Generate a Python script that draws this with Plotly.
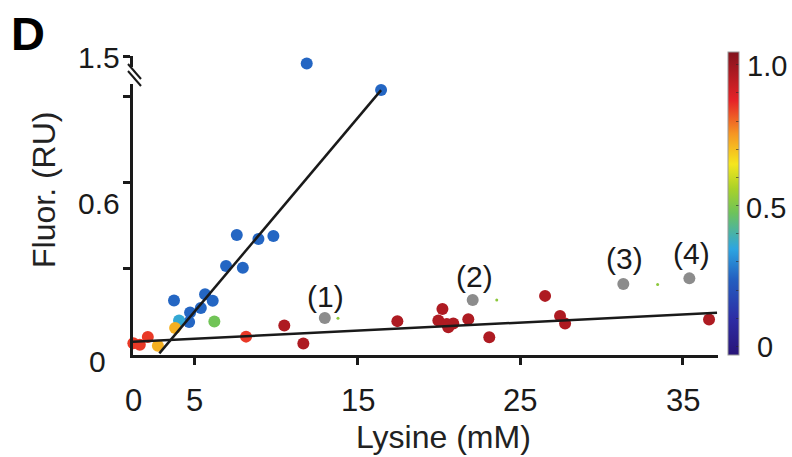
import plotly.graph_objects as go

# ---------------- data (axis units as drawn) ----------------
pt_x = [11.88, 16.45, 7.58, 8.91, 9.83, 6.92, 7.95, 5.63, 6.10, 3.72, 5.37, 4.71, 4.65,
        4.03, 6.20, 3.79, 2.73, 1.22, 1.62, 2.11, 8.15,
        10.50, 11.67, 17.45, 20.22, 19.97, 20.49, 20.89, 20.58, 21.81, 23.10, 26.53, 27.45, 27.76, 36.61]
pt_y = [1.016, 0.923, 0.418, 0.404, 0.415, 0.310, 0.304, 0.212, 0.189, 0.190, 0.164, 0.148, 0.115,
        0.120, 0.117, 0.094, 0.032, 0.041, 0.036, 0.063, 0.064,
        0.103, 0.040, 0.118, 0.160, 0.120, 0.108, 0.110, 0.097, 0.125, 0.062, 0.206, 0.136, 0.110, 0.124]
pt_c = [0.25] * 13 + [0.36, 0.48, 0.72, 0.72, 0.85, 0.85, 0.85, 0.85] + [0.97] * 14

gray_x = [12.99, 22.08, 31.34, 35.40]
gray_y = [0.129, 0.192, 0.247, 0.267]
gray_labels = ["(1)", "(2)", "(3)", "(4)"]
gray_label_x = [13.05, 22.22, 31.40, 35.54]
gray_label_y = [0.203, 0.273, 0.337, 0.354]

tiny_x = [13.80, 23.56, 33.45]
tiny_y = [0.128, 0.192, 0.246]

# fitted lines: slope, intercept, x start, x end
fit_steep = dict(slope=0.0673, intercept=-0.184, x0=2.82, x1=16.45)
fit_flat = dict(slope=0.00282, intercept=0.0426, x0=1.2, x1=37.1)

x_tickvals = [5, 15, 25, 35]
x_ticklabels = ["0", "5", "15", "25", "35"]
x_label_pos = [1.2, 5, 15, 25, 35]
y_tickvals = [0.3, 0.6, 0.9, 1.039]
cbar_ticks = [0, 0.1, 0.2, 0.3, 0.4, 0.5, 0.6, 0.7, 0.8, 0.9, 1.0]

# ---------------- layout geometry ----------------
W, H = 792, 457
L, R, T, B = 133, 718, 56, 355
XR = [1.2, 37.16]
YR = [0.0, (B - T) / 287.0]

def xp(px):
    return (px - L) / (R - L)

def yp(py):
    return (B - py) / (B - T)

FONT = "Arial, Liberation Sans, Helvetica, sans-serif"
INK = "#1a1a1a"

colorscale = [
    [0.00, "rgb(40,20,120)"],
    [0.12, "rgb(45,45,165)"],
    [0.25, "rgb(35,95,192)"],
    [0.35, "rgb(45,165,225)"],
    [0.47, "rgb(110,195,90)"],
    [0.55, "rgb(170,210,40)"],
    [0.63, "rgb(245,230,30)"],
    [0.73, "rgb(245,150,35)"],
    [0.84, "rgb(230,35,40)"],
    [1.00, "rgb(130,20,30)"],
]

fig = go.Figure()

fig.add_trace(go.Scatter(
    x=pt_x, y=pt_y, mode="markers", cliponaxis=False, hoverinfo="skip",
    marker=dict(size=12, color=pt_c, colorscale=colorscale, cmin=-0.03, cmax=1.045,
                line=dict(width=0), showscale=True,
                colorbar=dict(thickness=11, thicknessmode="pixels",
                              len=B - 52, lenmode="pixels",
                              x=xp(728), xanchor="left", y=0, yanchor="bottom",
                              xpad=0, ypad=0, outlinewidth=1, outlinecolor="#9a9a9a",
                              ticks="inside", tickvals=cbar_ticks, ticklen=3,
                              tickcolor="rgba(40,40,40,0.6)", tickwidth=1,
                              showticklabels=False)),
    showlegend=False))

fig.add_trace(go.Scatter(x=gray_x, y=gray_y, mode="markers", cliponaxis=False,
                         marker=dict(size=12, color="#8c8c8c"), showlegend=False))
fig.add_trace(go.Scatter(x=tiny_x, y=tiny_y, mode="markers", cliponaxis=False,
                         marker=dict(size=3, color="rgb(140,200,60)"), showlegend=False))

for f in (fit_steep, fit_flat):
    xs = [f["x0"], f["x1"]]
    ys = [f["slope"] * v + f["intercept"] for v in xs]
    fig.add_trace(go.Scatter(x=xs, y=ys, mode="lines", cliponaxis=False,
                             line=dict(color=INK, width=2.5), showlegend=False))

ann = []
for t, x, y in zip(gray_labels, gray_label_x, gray_label_y):
    ann.append(dict(text=t, x=x, y=y, xref="x", yref="y", showarrow=False,
                    font=dict(size=30, color=INK, family=FONT)))
for t, x in zip(x_ticklabels, x_label_pos):
    ann.append(dict(text=t, x=x, y=yp(400), xref="x", yref="paper", showarrow=False,
                    xanchor="center", yanchor="middle",
                    font=dict(size=31, color=INK, family=FONT)))
# y tick labels
ann.append(dict(text="1.5", x=xp(122), y=yp(57), xref="paper", yref="paper", showarrow=False,
                xanchor="right", yanchor="middle", font=dict(size=30, color=INK, family=FONT)))
ann.append(dict(text="0.6", x=xp(122), y=yp(203), xref="paper", yref="paper", showarrow=False,
                xanchor="right", yanchor="middle", font=dict(size=30, color=INK, family=FONT)))
ann.append(dict(text="0", x=xp(97), y=yp(361), xref="paper", yref="paper", showarrow=False,
                xanchor="center", yanchor="middle", font=dict(size=30, color=INK, family=FONT)))
# colorbar labels
ann.append(dict(text="1.0", x=xp(745), y=yp(66), xref="paper", yref="paper", showarrow=False,
                xanchor="left", yanchor="middle", font=dict(size=29, color=INK, family=FONT)))
ann.append(dict(text="0.5", x=xp(744), y=yp(208), xref="paper", yref="paper", showarrow=False,
                xanchor="left", yanchor="middle", font=dict(size=29, color=INK, family=FONT)))
ann.append(dict(text="0", x=xp(765), y=yp(347), xref="paper", yref="paper", showarrow=False,
                xanchor="center", yanchor="middle", font=dict(size=29, color=INK, family=FONT)))
# axis titles
ann.append(dict(text="Lysine (mM)", x=xp(443), y=yp(437), xref="paper", yref="paper",
                showarrow=False, xanchor="center", yanchor="middle",
                font=dict(size=32, color="#222222", family=FONT)))
ann.append(dict(text="Fluor. (RU)", x=xp(44), y=yp(190), xref="paper", yref="paper",
                showarrow=False, textangle=-90, xanchor="center", yanchor="middle",
                font=dict(size=32, color="#222222", family=FONT)))
# panel letter
ann.append(dict(text="<b>D</b>", x=xp(28), y=yp(33), xref="paper", yref="paper",
                showarrow=False, xanchor="center", yanchor="middle",
                font=dict(size=47, color="#000000", family=FONT)))

shapes = [
    # axis break: white gap + two slashes
    dict(type="rect", xref="paper", yref="paper", x0=xp(128), x1=xp(139), y0=yp(84), y1=yp(67),
         fillcolor="white", line=dict(width=0), layer="above"),
    dict(type="line", xref="paper", yref="paper", x0=xp(128), y0=yp(64), x1=xp(141), y1=yp(79),
         line=dict(color=INK, width=2), layer="above"),
    dict(type="line", xref="paper", yref="paper", x0=xp(128), y0=yp(71), x1=xp(141), y1=yp(86),
         line=dict(color=INK, width=2), layer="above"),
]

fig.update_layout(
    width=W, height=H,
    margin=dict(l=L, r=W - R, t=T, b=H - B, pad=0),
    paper_bgcolor="white", plot_bgcolor="white",
    font=dict(family=FONT, color=INK),
    xaxis=dict(range=XR, showgrid=False, zeroline=False, showline=True, linewidth=3,
               linecolor=INK, ticks="outside", tickvals=x_tickvals, ticklen=7, tickwidth=2.5,
               tickcolor=INK, showticklabels=False, fixedrange=True),
    yaxis=dict(range=YR, showgrid=False, zeroline=False, showline=True, linewidth=3,
               linecolor=INK, ticks="outside", tickvals=y_tickvals, ticklen=7, tickwidth=2.5,
               tickcolor=INK, showticklabels=False, fixedrange=True),
    annotations=ann, shapes=shapes, showlegend=False,
)

fig.write_html("out.html")
